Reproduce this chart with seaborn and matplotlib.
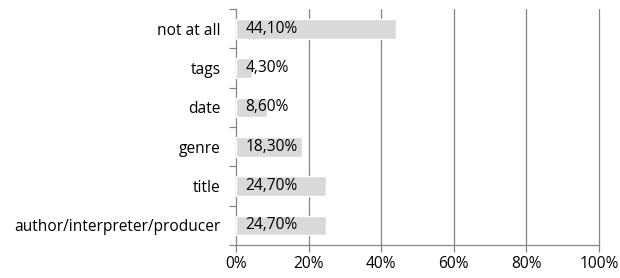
import matplotlib
matplotlib.use("Agg")
import matplotlib.pyplot as plt
import seaborn as sns
import pandas as pd
import numpy as np
from matplotlib.ticker import FixedLocator

categories = ["not at all", "tags", "date", "genre", "title", "author/interpreter/producer"]
values = [44.1, 4.3, 8.6, 18.3, 24.7, 24.7]
value_labels = ["44,10%", "4,30%", "8,60%", "18,30%", "24,70%", "24,70%"]
x_ticks = [0, 20, 40, 60, 80, 100]

df = pd.DataFrame({"category": categories, "value": values})

sns.set_style("white")
plt.rcParams["font.family"] = ["Open Sans", "DejaVu Sans"]

fig = plt.figure(figsize=(6.2, 2.78), dpi=100)
ax = fig.add_axes([236 / 620, 1 - 245 / 278, (599 - 236) / 620, (245 - 9) / 278])

sns.barplot(data=df, x="value", y="category", order=categories, color="#d9d9d9",
            width=0.5, saturation=1, ax=ax, zorder=3)

grid_col = "#868686"
fs = 11.2
ax.set_xlim(0, 100)
ax.set_ylim(len(categories) - 0.5, -0.5)
ax.set_xticks(x_ticks)
ax.set_xticklabels([f"{t}%" for t in x_ticks])
for t in x_ticks[1:]:
    ax.axvline(t, color=grid_col, lw=0.9, zorder=1, clip_on=False)

for i, lab in enumerate(value_labels):
    ax.text(2.6, i, lab, va="center", ha="left", fontsize=fs, color="#000000", zorder=4)

ax.set_xlabel("")
ax.set_ylabel("")
sns.despine(ax=ax, top=True, right=True)
for s in ["left", "bottom"]:
    ax.spines[s].set_color(grid_col)
    ax.spines[s].set_linewidth(0.9)

ax.yaxis.set_minor_locator(FixedLocator(np.arange(-0.5, len(categories), 1)))
ax.tick_params(axis="y", which="major", length=0, labelsize=fs, pad=11, colors="#000000")
ax.tick_params(axis="y", which="minor", length=5, color=grid_col, width=0.9, left=True)
ax.tick_params(axis="x", which="major", length=5, color=grid_col, width=0.9, labelsize=fs,
               pad=3, bottom=True, labelcolor="#000000")

fig.savefig("out.png", dpi=100)
